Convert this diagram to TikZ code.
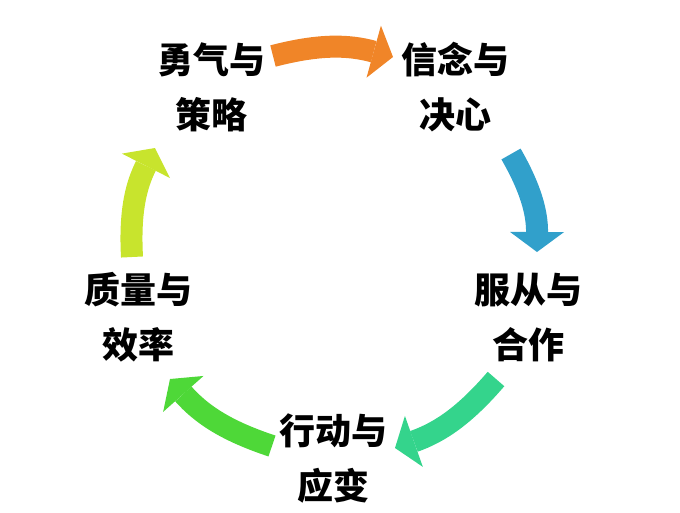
\documentclass[tikz,border=0pt]{standalone}
\usepackage{fontspec}
\newfontfamily\cjk{Noto Sans CJK SC}
\usetikzlibrary{arrows.meta}

\tikzset{every picture/.style={line width=0.75pt}}
\tikzset{
  lbl/.style={align=center, inner sep=0pt, font=\cjk\bfseries\fontsize{36}{55}\selectfont},
  cyc/.style={line width=22pt, -{Triangle[length=20pt,width=54pt,line width=0pt]}}
}

\begin{document}
\begin{tikzpicture}[x=1pt,y=1pt,yscale=-1,xscale=1]
    \useasboundingbox (0,0) rectangle (680,512);

    % Text Node
    \node[lbl] (yq) at (211,87.5) {勇气与\\策略};
    % Text Node
    \node[lbl] (xn) at (455,87.5) {信念与\\决心};
    % Text Node
    \node[lbl] (fc) at (528,317.5) {服从与\\合作};
    % Text Node
    \node[lbl] (xd) at (333.5,458) {行动与\\应变};
    % Text Node
    \node[lbl] (zl) at (138,317.5) {质量与\\效率};

    % arrow ends
    \coordinate (a1) at (273,56);
    \coordinate (b1) at (393,57);
    \coordinate (a2) at (511,154);
    \coordinate (b2) at (537,252);
    \coordinate (a3) at (496,379);
    \coordinate (b3) at (395,448);
    \coordinate (a4) at (272,446);
    \coordinate (b4) at (170,379);
    \coordinate (a5) at (132,257);
    \coordinate (b5) at (155,148);

    %Curve Lines
    \draw [cyc, color={rgb, 255:red, 240; green, 133; blue, 40 }] (a1) to[bend right=15] (b1) ;
    %Curve Lines
    \draw [cyc, color={rgb, 255:red, 49; green, 160; blue, 203 }] (a2) to[bend right=15] (b2) ;
    %Curve Lines
    \draw [cyc, color={rgb, 255:red, 52; green, 212; blue, 140 }] (a3) to[bend right=15] (b3) ;
    %Curve Lines
    \draw [cyc, color={rgb, 255:red, 78; green, 216; blue, 56 }] (a4) to[bend right=15] (b4) ;
    %Curve Lines
    \draw [cyc, color={rgb, 255:red, 200; green, 228; blue, 45 }] (a5) to[bend right=15] (b5) ;

\end{tikzpicture}
\end{document}
